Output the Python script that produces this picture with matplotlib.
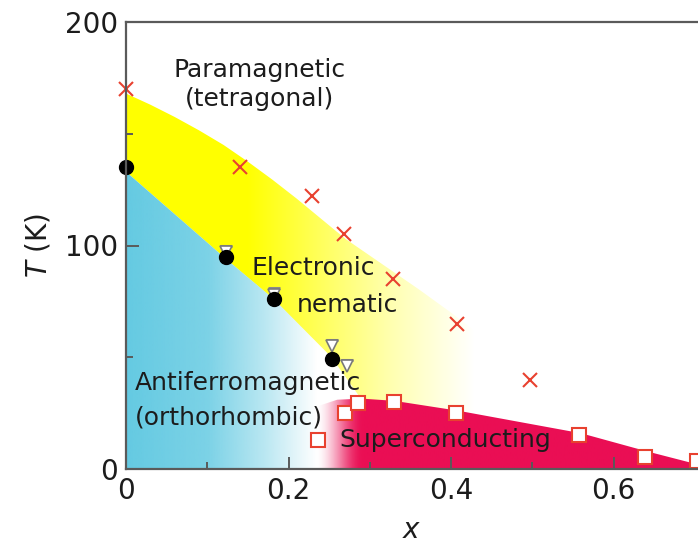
import numpy as np
import matplotlib
matplotlib.use("Agg")
import matplotlib.pyplot as plt
from matplotlib.patches import Polygon
from matplotlib.ticker import MultipleLocator
import matplotlib.transforms as mtransforms

# Structural transition (crosses)
x_cross = [0.0, 0.140, 0.229, 0.268, 0.329, 0.407, 0.497]
t_cross = [170, 135, 122, 105, 85, 65, 40]
# Magnetic transition (filled circles)
x_circle = [0.0, 0.123, 0.182, 0.253]
t_circle = [135, 95, 76, 49]
# Nematic onset (open triangles)
x_tri = [0.123, 0.182, 0.253, 0.272]
t_tri = [97, 78, 55, 46]
# Superconducting Tc (open squares)
x_sq = [0.236, 0.270, 0.285, 0.330, 0.406, 0.558, 0.639, 0.703]
t_sq = [13, 25, 29.5, 30, 25, 15, 5.5, 3.5]

# Phase boundaries
nem_top_x = [0.0, 0.03, 0.06, 0.09, 0.12, 0.15, 0.18, 0.21, 0.24, 0.27, 0.30,
             0.33, 0.36, 0.40, 0.44, 0.50]
nem_top_t = [168, 163, 157.5, 151.5, 145, 137.5, 129.5, 121, 112, 103, 95.5,
             88, 80.5, 70, 59, 43]
afm_top_x = [0.0, 0.123, 0.182, 0.253, 0.29]
afm_top_t = [133, 94, 76, 50, 31]
sc_top_x = [0.235, 0.26, 0.29, 0.33, 0.41, 0.50, 0.56, 0.64, 0.704]
sc_top_t = [28, 31, 31.5, 30.5, 26, 20, 16, 8, 2]

XMAX = 0.704
fig = plt.figure(figsize=(6.98, 5.43), dpi=100)
ax = fig.add_axes([126 / 698, 1 - 469 / 543, 572 / 698, 447 / 543])
ax.set_xlim(0, XMAX)
ax.set_ylim(0, 200)

xs = np.linspace(0, XMAX, 400)


def gradient(color, alpha):
    img = np.ones((1, xs.size, 4))
    img[0, :, :3] = color
    img[0, :, 3] = alpha
    return img


def clip_image(img, verts, z):
    poly = Polygon(verts, closed=True, transform=ax.transData, facecolor="none", edgecolor="none")
    im = ax.imshow(img, extent=(0, XMAX, 0, 200), aspect="auto", origin="lower",
                   interpolation="bilinear", zorder=z)
    im.set_clip_path(poly)
    return im


def ramp(x, a, b):
    s = np.clip((x - a) / (b - a), 0, 1)
    return s * s * (3 - 2 * s)


# Electronic nematic band (yellow)
yellow = np.array([1.0, 1.0, 0.0])
ya = np.interp(xs, [0, 0.15, 0.25, 0.33, 0.43], [1, 1, 0.6, 0.3, 0])
yverts = list(zip(nem_top_x, nem_top_t)) + [(nem_top_x[-1], 0), (afm_top_x[-1], 0)] + \
    list(zip(afm_top_x[::-1], afm_top_t[::-1]))
clip_image(gradient(yellow, ya), yverts, 0.5)

# Antiferromagnetic region (blue)
blue = np.array([100, 202, 226]) / 255
ba = np.interp(xs, [0, 0.1, 0.17, 0.235], [1, 0.85, 0.45, 0])
bverts = [(0, 0)] + list(zip(afm_top_x, afm_top_t)) + [(afm_top_x[-1], 0)]
clip_image(gradient(blue, ba), bverts, 0.6)

# Superconducting dome (crimson)
crimson = np.array([234, 14, 84]) / 255
ca = ramp(xs, 0.233, 0.292)
cverts = list(zip(sc_top_x, sc_top_t)) + [(sc_top_x[-1], 0), (sc_top_x[0], 0)]
clip_image(gradient(crimson, ca), cverts, 0.7)

red = "#e8412f"
ax.plot(x_cross, t_cross, linestyle="none", marker="x", ms=10, mew=1.5, color=red,
        zorder=5, clip_on=False)
# small caps above the triangles
offset = mtransforms.ScaledTranslation(0, 4.5 / 72, fig.dpi_scale_trans)
ax.plot(x_tri, t_tri, linestyle="none", marker="_", ms=8, mew=2.2, color="#8a8a8a",
        transform=ax.transData + offset, zorder=4)
ax.plot(x_tri, t_tri, linestyle="none", marker="v", ms=8, mew=1.2, mfc="white",
        mec="#7a7a7a", zorder=4)
ax.plot(x_circle, t_circle, linestyle="none", marker="o", ms=10, color="black",
        zorder=6, clip_on=False)
ax.plot(x_sq, t_sq, linestyle="none", marker="s", ms=10, mew=1.5, mfc="white",
        mec=red, zorder=6, clip_on=False)

txt = "#1c1c1c"
fs = 18
ax.text(0.164, 172, "Paramagnetic\n(tetragonal)", ha="center", va="center", fontsize=fs,
        color=txt, linespacing=1.25, zorder=7)
ax.text(0.230, 90, "Electronic", ha="center", va="center", fontsize=fs, color=txt, zorder=7)
ax.text(0.273, 73.5, "nematic", ha="center", va="center", fontsize=fs, color=txt, zorder=7)
ax.text(0.011, 38.5, "Antiferromagnetic", ha="left", va="center", fontsize=fs, color=txt, zorder=7)
ax.text(0.011, 23, "(orthorhombic)", ha="left", va="center", fontsize=fs, color=txt, zorder=7)
ax.text(0.263, 13, "Superconducting", ha="left", va="center", fontsize=fs, color=txt, zorder=7)

spine_c = "#5a5a5a"
for side in ("left", "bottom", "top"):
    ax.spines[side].set_color(spine_c)
    ax.spines[side].set_linewidth(1.6)
    ax.spines[side].set_zorder(8)
ax.spines["right"].set_visible(False)

ax.xaxis.set_minor_locator(MultipleLocator(0.1))
ax.yaxis.set_minor_locator(MultipleLocator(50))
ax.set_xticks([0, 0.2, 0.4, 0.6])
ax.set_xticklabels(["0", "0.2", "0.4", "0.6"])
ax.set_yticks([0, 100, 200])
ax.set_yticklabels(["0", "100", "200"])
ax.tick_params(which="both", direction="in", color=spine_c, width=1.4, labelsize=20,
               labelcolor=txt, top=False, right=False)
ax.tick_params(which="major", length=9, pad=6)
ax.tick_params(which="minor", length=5)

ax.set_xlabel("$x$", fontsize=20, color=txt, labelpad=8)
ax.set_ylabel("$T$ (K)", fontsize=20, color=txt, labelpad=9)

fig.savefig("out.png", dpi=100)
